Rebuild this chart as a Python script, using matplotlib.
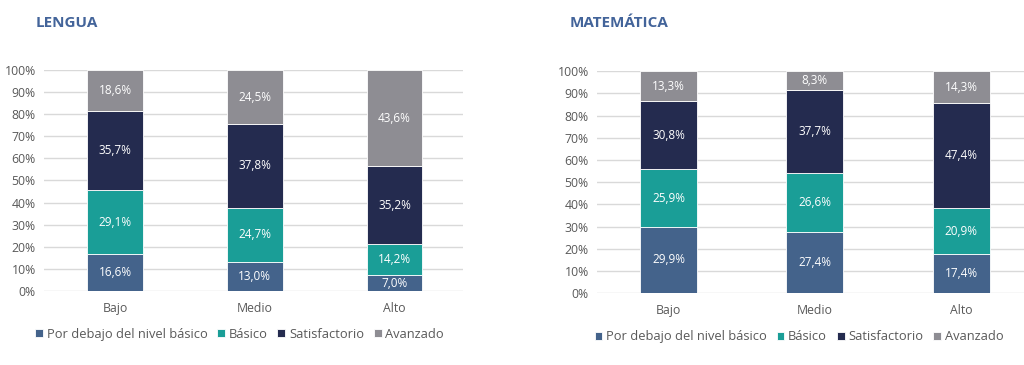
import matplotlib.pyplot as plt
import numpy as np
from matplotlib.ticker import PercentFormatter

plt.rcParams['font.family'] = ['Open Sans', 'DejaVu Sans']

levels = ["Bajo", "Medio", "Alto"]
series = ["Por debajo del nivel básico", "Básico", "Satisfactorio", "Avanzado"]
colors = ["#44638b", "#1a9e97", "#242b4f", "#8e8d93"]

lengua = {
    "Por debajo del nivel básico": [16.6, 13.0, 7.0],
    "Básico": [29.1, 24.7, 14.2],
    "Satisfactorio": [35.7, 37.8, 35.2],
    "Avanzado": [18.6, 24.5, 43.6],
}
matematica = {
    "Por debajo del nivel básico": [29.9, 27.4, 17.4],
    "Básico": [25.9, 26.6, 20.9],
    "Satisfactorio": [30.8, 37.7, 47.4],
    "Avanzado": [13.3, 8.3, 14.3],
}

fig = plt.figure(figsize=(10.24, 3.65), dpi=100)
ax1 = fig.add_axes([0.043, 0.203, 0.409, 0.605])
ax2 = fig.add_axes([0.583, 0.197, 0.417, 0.608])


def draw(ax, data, width, xlim, leg_x):
    x = np.arange(len(levels))
    bottom = np.zeros(len(levels))
    for name, col in zip(series, colors):
        vals = np.array(data[name])
        bars = ax.bar(x, vals, width, bottom=bottom, color=col, label=name,
                      edgecolor="white", linewidth=0.6, zorder=3)
        for b, v, y0 in zip(bars, vals, bottom):
            ax.text(b.get_x() + b.get_width() / 2, y0 + v / 2,
                    f"{v:.1f}%".replace(".", ","), ha="center", va="center",
                    color="white", fontsize=8.5, zorder=4)
        bottom += vals
    ax.set_ylim(0, 100)
    ax.set_xlim(*xlim)
    ax.set_yticks(range(0, 101, 10))
    ax.yaxis.set_major_formatter(PercentFormatter(decimals=0))
    ax.set_xticks(x)
    ax.set_xticklabels(levels)
    ax.grid(axis="y", color="#d9d9d9", linewidth=1, zorder=0)
    for s in ax.spines.values():
        s.set_visible(False)
    ax.tick_params(length=0, labelsize=8.8, colors="#595959")
    ax.tick_params(axis="x", pad=8)
    ax.tick_params(axis="y", pad=6)
    ax.legend(loc="upper center", bbox_to_anchor=(leg_x, -0.115), ncol=4,
              frameon=False, fontsize=9.3, handlelength=0.6, handleheight=0.6,
              handletextpad=0.3, columnspacing=0.75, labelcolor="#595959")


draw(ax1, lengua, 0.4, (-0.51, 2.49), 0.467)
draw(ax2, matematica, 0.39, (-0.49, 2.43), 0.473)

fig.text(0.035, 0.925, "LENGUA", fontsize=11, fontweight="bold", color="#43649a")
fig.text(0.556, 0.925, "MATEMÁTICA", fontsize=11, fontweight="bold", color="#43649a")

plt.savefig("out.png", dpi=100)
